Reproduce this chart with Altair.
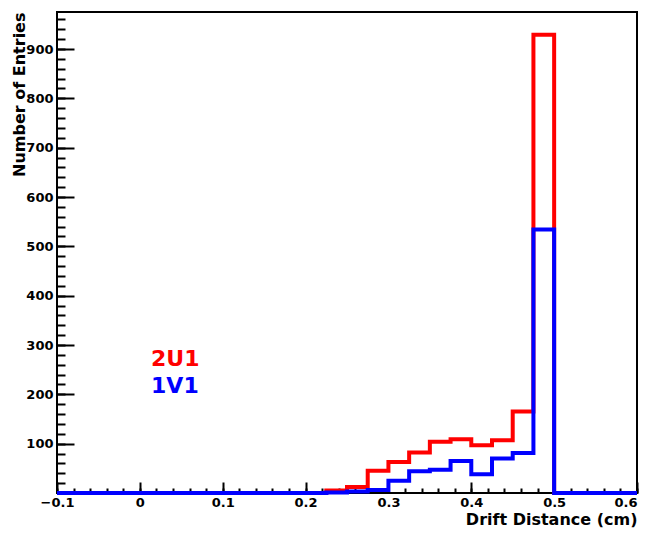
import altair as alt
import pandas as pd

# Histogram bin edges (cm) and counts per bin
bin_edges = [-0.1, -0.075, -0.05, -0.025, 0.0, 0.025, 0.05, 0.075, 0.1, 0.125,
             0.15, 0.175, 0.2, 0.225, 0.25, 0.275, 0.3, 0.325, 0.35, 0.375,
             0.4, 0.425, 0.45, 0.475, 0.5, 0.525, 0.55, 0.575, 0.6]
counts_2u1 = [0, 0, 0, 0, 0, 0, 0, 0, 0, 0, 0, 0, 0,
              5, 12, 45, 63, 82, 104, 109, 97, 107, 165, 929,
              0, 0, 0, 0]
counts_1v1 = [0, 0, 0, 0, 0, 0, 0, 0, 0, 0, 0, 0, 0,
              1, 3, 6, 25, 44, 47, 65, 38, 70, 81, 534,
              0, 0, 0, 0]

legend_labels = ["2U1", "1V1"]
legend_colors = ["#ff0000", "#0000ff"]
legend_x = [0.0135, 0.0135]
legend_y = [257, 203]

x_major = [-0.1, 0.0, 0.1, 0.2, 0.3, 0.4, 0.5, 0.6]
x_minor = [round(-0.1 + 0.02 * i, 2) for i in range(36)]
y_labels = [100, 200, 300, 400, 500, 600, 700, 800, 900]
y_major = [0, 100, 200, 300, 400, 500, 600, 700, 800, 900]
y_minor = [20 * i for i in range(49)]

df = pd.DataFrame({
    "x": bin_edges,
    "red": counts_2u1 + [counts_2u1[-1]],
    "blue": counts_1v1 + [counts_1v1[-1]],
})
df_text = pd.DataFrame({"x": legend_x, "y": legend_y, "label": legend_labels, "color": legend_colors})

FONT = "DejaVu Sans"
xs = alt.Scale(domain=[-0.1, 0.6], nice=False, zero=False)
ys = alt.Scale(domain=[0, 975], nice=False, zero=True)

x_label_axis = alt.Axis(
    orient="bottom",
    values=x_major, ticks=False, domain=False, grid=False,
    labelExpr="datum.value == 0 ? '0' : (datum.value < 0 ? '\u2212' : '') + format(abs(datum.value), '.1f')",
    labelAlign={"condition": {"test": "datum.value > 0.55", "value": "right"}, "value": "center"},
    labelFont=FONT, labelFontWeight="bold", labelFontSize=13, labelColor="black",
    labelPadding=3, labelFlush=False, labelOverlap=False,
    titleFont=FONT, titleFontWeight="bold", titleFontSize=16, titleColor="black",
    titleAnchor="end", titleAlign="right", titleX=580, titleY=31, titleBaseline="alphabetic",
)
y_label_axis = alt.Axis(
    orient="left",
    values=y_labels, ticks=False, domain=False, grid=False,
    labelFont=FONT, labelFontWeight="bold", labelFontSize=13, labelColor="black",
    labelPadding=4, labelOverlap=False,
    titleFont=FONT, titleFontWeight="bold", titleFontSize=16, titleColor="black",
    titleAngle=270, titleAlign="right", titleBaseline="alphabetic", titleX=-33, titleY=0,
    titleAnchor="end",
)

base = alt.Chart(df)

red = base.mark_line(interpolate="step-after", color="#ff0000", strokeWidth=4, clip=False).encode(
    x=alt.X("x:Q", scale=xs, axis=x_label_axis, title="Drift Distance (cm)"),
    y=alt.Y("red:Q", scale=ys, axis=y_label_axis, title="Number of Entries"),
)
blue = base.mark_line(interpolate="step-after", color="#0000ff", strokeWidth=4, clip=False).encode(
    x=alt.X("x:Q", scale=xs, axis=None),
    y=alt.Y("blue:Q", scale=ys, axis=None),
)

text = alt.Chart(df_text).mark_text(
    align="left", baseline="alphabetic", font=FONT, fontWeight="bold", fontSize=22
).encode(
    x=alt.X("x:Q", scale=xs, axis=None),
    y=alt.Y("y:Q", scale=ys, axis=None),
    text="label:N",
    color=alt.Color("color:N", scale=None),
)

def tick_axis(vals, size, orient):
    return alt.Axis(orient=orient, values=vals, labels=False, domain=False, grid=False,
                    ticks=True, tickSize=size, tickWidth=2, tickColor="black",
                    offset=-size, title=None)

major = base.mark_point(opacity=0).encode(
    x=alt.X("x:Q", scale=xs, axis=tick_axis(x_major, 11, "bottom"), title=None),
    y=alt.Y("blue:Q", scale=ys, axis=tick_axis(y_major, 17, "left"), title=None),
)
minor = base.mark_point(opacity=0).encode(
    x=alt.X("x:Q", scale=xs, axis=tick_axis(x_minor, 5, "bottom"), title=None),
    y=alt.Y("blue:Q", scale=ys, axis=tick_axis(y_minor, 8, "left"), title=None),
)

chart = alt.layer(red, blue, text, major, minor).resolve_axis(
    x="independent", y="independent"
).properties(
    width=580, height=481,
    autosize=alt.AutoSizeParams(type="none"),
    padding={"left": 49, "top": 4, "right": 2, "bottom": 36},
).configure_view(stroke="black", strokeWidth=2)

chart.save("out.html", embed_options={"renderer": "svg", "actions": False})
